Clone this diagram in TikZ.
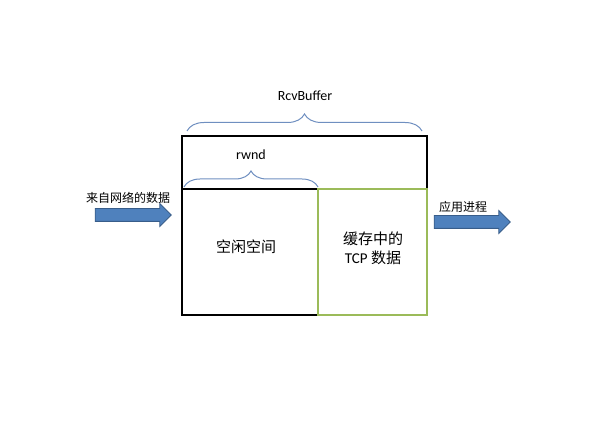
\documentclass[tikz,border=0pt]{standalone}
\usepackage{fontspec}
\setmainfont{Carlito}
\newfontfamily\cjk{Noto Sans CJK SC}
\usetikzlibrary{decorations.pathreplacing,shapes.arrows}
\definecolor{bracecol}{HTML}{6F8FC0}
\definecolor{greenbox}{HTML}{9BBB59}
\definecolor{arrowfill}{HTML}{4F81BD}
\definecolor{arrowline}{HTML}{385D8A}
\tikzset{
  bufbrace/.style={draw=bracecol, line width=1pt, decorate, decoration={brace, amplitude=17pt}},
  blockarrow/.style={single arrow, draw=arrowline, fill=arrowfill, line width=0.8pt, inner sep=0pt,
    text height=6pt, text depth=6pt, text width=0pt,
    minimum height=76pt, minimum width=22pt, single arrow head extend=5pt, single arrow head indent=0pt},
  lbl/.style={inner sep=0pt, font=\fontsize{14}{16}\selectfont},
  cjklbl/.style={inner sep=0pt, align=center, font=\cjk\fontsize{15}{19}\selectfont},
  smallcjk/.style={inner sep=0pt, font=\cjk\fontsize{12}{14}\selectfont},
}
\begin{document}
\begin{tikzpicture}[x=1pt,y=-1pt]
\useasboundingbox (0,0) rectangle (607,443);
% boxes
\draw[line width=2pt, line join=miter] (182,136) rectangle (427,315);
\draw[line width=2pt] (182,189) -- (318,189);
\draw[greenbox, line width=2pt] (318,189) rectangle (427,315);
\node[cjklbl] (free) at (246,247) {空闲空间};
\node[cjklbl] (cached) at (373,248) {缓存中的\\\fontspec{Carlito}TCP\ \cjk 数据};
% braces
\coordinate (rbA) at (187,131);
\coordinate (rbB) at (422,131);
\draw[bufbrace] (rbA) -- (rbB);
\node[lbl] (rcv) at (305,96) {RcvBuffer};
\coordinate (rwA) at (184,187);
\coordinate (rwB) at (318,187);
\draw[bufbrace, decoration={brace, amplitude=16pt}] (rwA) -- (rwB);
\node[lbl] (rwnd) at (251,155) {rwnd};
% arrows
\node[blockarrow] (inarrow) at (130,215) {};
\node[smallcjk] (inlbl) at (128,198) {来自网络的数据};
\node[blockarrow] (outarrow) at (469,222) {};
\node[smallcjk] (outlbl) at (463,207) {应用进程};
\end{tikzpicture}
\end{document}
